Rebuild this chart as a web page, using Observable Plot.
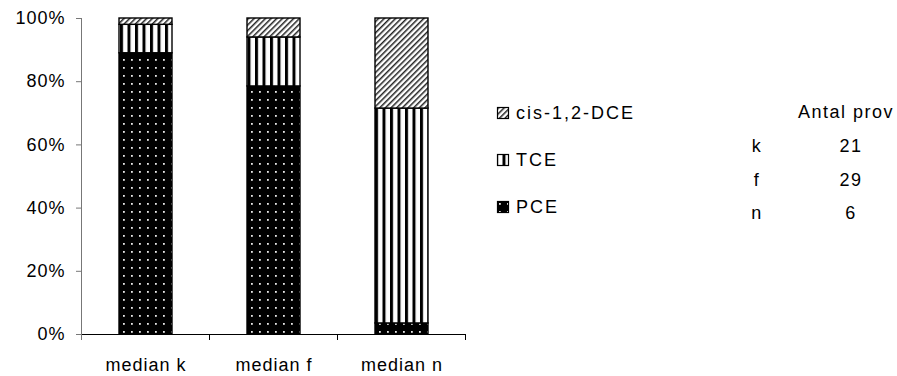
<!DOCTYPE html>
<html><head><meta charset="utf-8">
<script src="https://cdn.jsdelivr.net/npm/d3@7"></script>
<script src="https://cdn.jsdelivr.net/npm/@observablehq/plot@0.6"></script>
<style>
body{margin:0;background:#fff;}
#chart{position:relative;width:897px;height:376px;}
#chart svg{font-family:"Liberation Sans",Arial,sans-serif;}
</style>
</head><body><div id="chart"></div>
<script>
const categories = ["median k", "median f", "median n"];
const series = ["PCE", "TCE", "cis-1,2-DCE"];
const PCE = [0.89, 0.785, 0.035];
const TCE = [0.09, 0.155, 0.68];
const DCE = [0.02, 0.06, 0.285];
const yTicks = [0, 0.2, 0.4, 0.6, 0.8, 1];
const legendOrder = ["cis-1,2-DCE", "TCE", "PCE"];
const patternIds = ["pat-pce", "pat-tce", "pat-dce"];
const tableHeader = "Antal prov";
const tableKeys = ["k", "f", "n"];
const tableCounts = [21, 29, 6];

const data = [];
categories.forEach((c, i) => {
  [PCE, TCE, DCE].forEach((arr, j) => data.push({cat: c, series: series[j], value: arr[i]}));
});

const FONT = 18, LS = "1px";

const plot = Plot.plot({
  width: 897, height: 376,
  marginLeft: 81, marginRight: 432, marginTop: 18, marginBottom: 42,
  style: {fontSize: FONT + "px", color: "black", background: "white", letterSpacing: LS},
  x: {domain: categories, paddingInner: 0.586, paddingOuter: 0.293, label: null},
  y: {domain: [0, 1], label: null},
  color: {type: "ordinal", domain: series, range: patternIds.map(id => `url(#${id})`)},
  marks: [
    Plot.barY(data, {x: "cat", y: "value", fill: "series", stroke: "black", strokeWidth: 1.4, order: series}),
    Plot.axisY({ticks: yTicks, tickFormat: d3.format(".0%"), tickSize: 5, tickPadding: 11, stroke: "#777", label: null}),
    Plot.axisX({tickSize: 0, tickPadding: 24, label: null}),
    Plot.ruleY([0], {stroke: "black", strokeWidth: 1})
  ]
});

const svg = d3.select(plot);
const defs = svg.insert("defs", ":first-child");
// PCE: black with light dots
const p1 = defs.append("pattern").attr("id", "pat-pce").attr("patternUnits", "userSpaceOnUse")
  .attr("width", 8).attr("height", 8);
p1.append("rect").attr("width", 8).attr("height", 8).attr("fill", "black");
p1.append("rect").attr("x", 3).attr("y", 3).attr("width", 1.8).attr("height", 1.8).attr("fill", "#e8e8e8");
// TCE: vertical stripes
const p2 = defs.append("pattern").attr("id", "pat-tce").attr("patternUnits", "userSpaceOnUse")
  .attr("width", 7.5).attr("height", 8);
p2.append("rect").attr("width", 7.5).attr("height", 8).attr("fill", "white");
p2.append("rect").attr("width", 3).attr("height", 8).attr("fill", "black");
// DCE: diagonal hatch
const p3 = defs.append("pattern").attr("id", "pat-dce").attr("patternUnits", "userSpaceOnUse")
  .attr("width", 4).attr("height", 8).attr("patternTransform", "rotate(45)");
p3.append("rect").attr("width", 4).attr("height", 8).attr("fill", "white");
p3.append("rect").attr("width", 1.5).attr("height", 8).attr("fill", "#222");

const xs = plot.scale("x"), ys = plot.scale("y"), cs = plot.scale("color");
const y0 = ys.apply(0), y1 = ys.apply(1);
const step = xs.step, bw = xs.bandwidth;
const left = xs.apply(categories[0]) + bw / 2 - step / 2;
const g = svg.append("g");
// y axis line
g.append("line").attr("x1", left).attr("x2", left).attr("y1", y1).attr("y2", y0 + 6).attr("stroke", "#777");
// category boundary ticks
const bounds = categories.map(c => xs.apply(c) + bw / 2 + step / 2);
g.selectAll(".bt").data(bounds).join("line")
  .attr("x1", d => d).attr("x2", d => d).attr("y1", y0).attr("y2", y0 + 6).attr("stroke", "black");

// legend
const lg = svg.append("g").attr("font-size", FONT).attr("letter-spacing", "2px").attr("text-anchor", "start");
const legendY = [113, 160, 207];
legendOrder.forEach((s, i) => {
  lg.append("rect").attr("x", 497.5).attr("y", legendY[i] - 5.5).attr("width", 11).attr("height", 11)
    .attr("fill", cs.apply(s)).attr("stroke", "black").attr("stroke-width", 1.2);
  lg.append("text").attr("x", 516).attr("y", legendY[i]).attr("dy", "0.35em").attr("text-anchor", "start").text(s);
});

// table
const tg = svg.append("g").attr("font-size", FONT).attr("letter-spacing", "1.5px");
tg.append("text").attr("x", 798).attr("y", 112).attr("dy", "0.35em").attr("text-anchor", "start").text(tableHeader);
const rowY = [146, 179.5, 213];
tableKeys.forEach((k, i) => {
  tg.append("text").attr("x", 757).attr("y", rowY[i]).attr("dy", "0.35em").attr("text-anchor", "middle").text(k);
  tg.append("text").attr("x", 851).attr("y", rowY[i]).attr("dy", "0.35em").attr("text-anchor", "middle").text(tableCounts[i]);
});

document.getElementById("chart").appendChild(plot);
</script>
</body></html>
